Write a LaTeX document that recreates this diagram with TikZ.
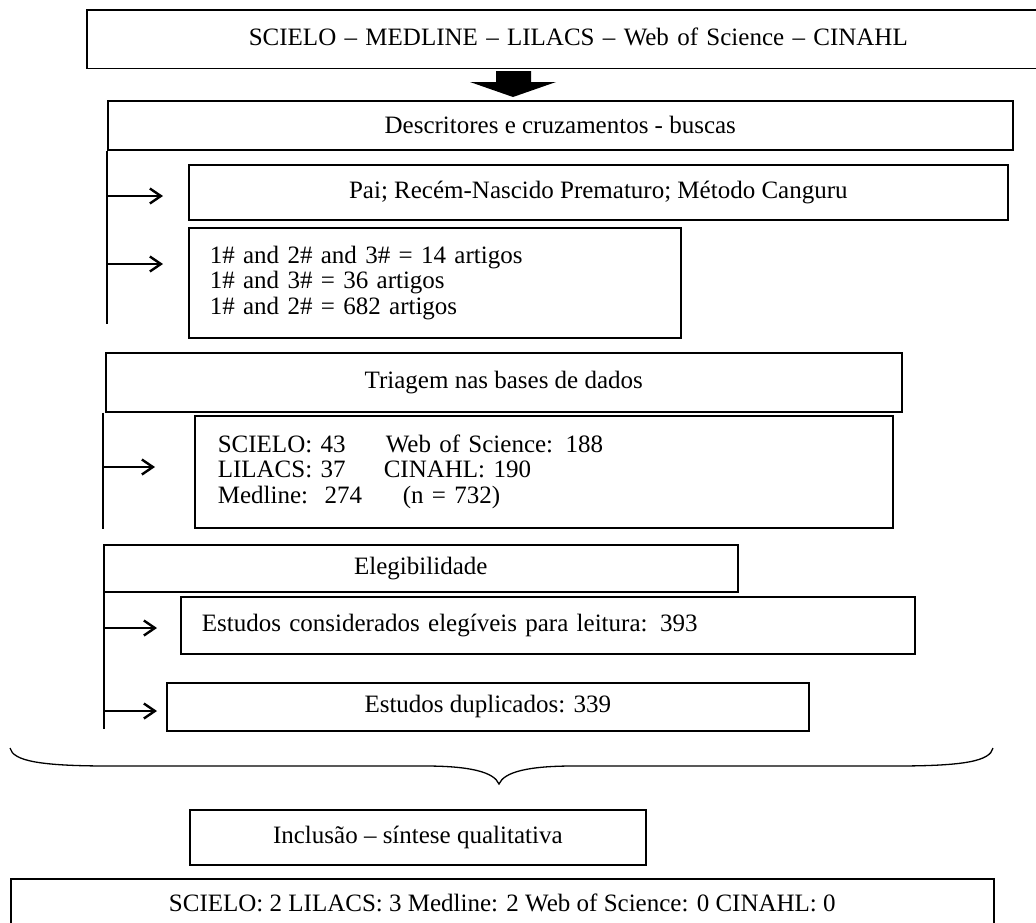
\documentclass[tikz,border=0pt]{standalone}
\usepackage{fontspec}
\setmainfont{Liberation Serif}
\usepackage{tikz}
\usetikzlibrary{positioning, arrows.meta}

\begin{document}
\begin{tikzpicture}[x=1pt, y=-1pt,
                    box/.style={draw, line width=1.6pt, anchor=north west, inner sep=0pt,
                                font=\fontsize{25}{25.5}\selectfont},
                    leftbox/.style={box, align=left, inner xsep=21pt},
                    seta/.style={line width=2.4pt, -{Straight Barb[length=11pt, width=15pt]}},
                    spine/.style={line width=1.3pt}]
                    \useasboundingbox (0,0) rectangle (1036,922);
                    \clip (0,0) rectangle (1036,922);

                    \node[leftbox, draw=none, inner xsep=161pt, text width=678, minimum height=52] (bases) at (87,10)
                        {SCIELO – MEDLINE – LILACS – Web of Science – CINAHL};
                    \draw[line width=1.6pt] (bases.north east) -- (bases.north west) -- ([yshift=-5pt]bases.south west) -- ([yshift=-5pt]bases.south east);
                    \fill (496,71) -- (531,71) -- (531,82) -- (556,82) -- (513,97) -- (470,82) -- (496,82) -- cycle;

                    \node[box, minimum width=905, minimum height=49] (desc) at (107,100)
                        {Descritores e cruzamentos - buscas};
                    \node[box, minimum width=819, minimum height=55] (pai) at (188,164)
                        {Pai; Recém-Nascido Prematuro; Método Canguru};
                    \node[leftbox, text width=450, minimum height=110] (termos) at (188,227)
                        {1\# and 2\# and 3\# = 14 artigos\\1\# and 3\# = 36 artigos\\1\# and 2\# = 682 artigos\\[6pt]};

                    \node[box, minimum width=796, minimum height=59] (triagem) at (105,352)
                        {Triagem nas bases de dados};
                    \node[box, align=left, inner xsep=23pt, text width=652, minimum height=112] (contagem) at (194,415)
                        {\makebox[168pt][l]{SCIELO: 43}Web of Science: 188\\
                         \makebox[166pt][l]{LILACS: 37}CINAHL: 190\\
                         \makebox[168pt][l]{Medline:\ \ 274}\hspace{17pt}(n = 732)\\[6pt]};

                    \node[box, minimum width=634, minimum height=47] (eleg) at (103,544)
                        {Elegibilidade};
                    \node[leftbox, text width=692, minimum height=57] (elegiveis) at (180,596)
                        {Estudos considerados elegíveis para leitura: 393};
                    \node[box, minimum width=642, minimum height=48] (dup) at (166,682)
                        {Estudos duplicados: 339};

                    \node[box, minimum width=456, minimum height=55] (inclusao) at (189,809)
                        {Inclusão – síntese qualitativa};
                    \node[box, minimum width=983, minimum height=48] (final) at (10,878)
                        {SCIELO: 2 LILACS: 3 Medline: 2 Web of Science: 0 CINAHL: 0};

                    \draw[spine] (desc.south west) -- ++(0,173);
                    \draw[spine] (triagem.south west) ++(-2,0) -- ++(0,116);
                    \draw[spine] (eleg.south west) ++(1,0) -- ++(0,136);

                    \coordinate (t1) at (107,196);
                    \coordinate (t2) at (107,264);
                    \coordinate (t3) at (103,467);
                    \coordinate (t4) at (104,628);
                    \coordinate (t5) at (104,711);
                    \draw[seta] (t1) -- ([xshift=-25pt]pai.west |- t1);
                    \draw[seta] (t2) -- ([xshift=-25pt]termos.west |- t2);
                    \draw[seta] (t3) -- ([xshift=-39pt]contagem.west |- t3);
                    \draw[seta] (t4) -- ([xshift=-23pt]elegiveis.west |- t4);
                    \draw[seta] (t5) -- ([xshift=-9pt]dup.west |- t5);

                    \draw[line width=1.3pt] (10,748) .. controls (13,761) and (40,766) .. (110,766) -- (425,766)
                        .. controls (470,766) and (494,772) .. (499,784)
                        .. controls (504,772) and (528,766) .. (573,766) -- (895,766)
                        .. controls (965,766) and (990,761) .. (993,748);
                 \end{tikzpicture}
\end{document}
